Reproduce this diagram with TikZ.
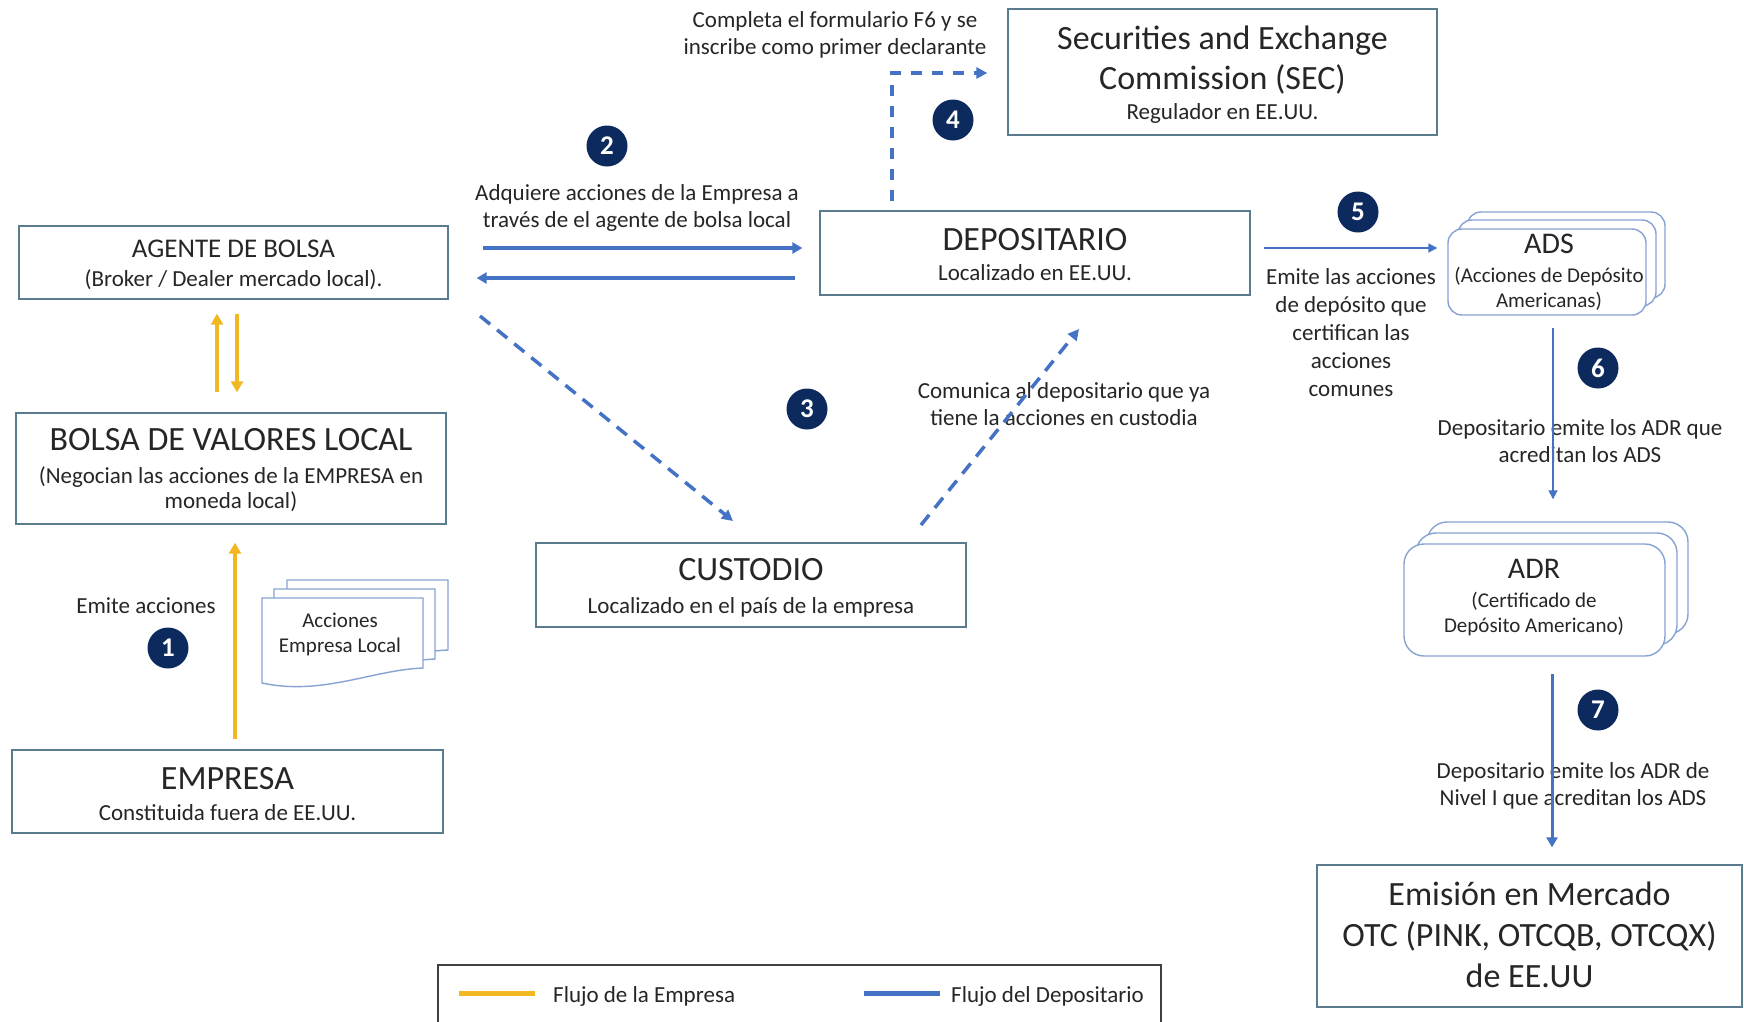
\documentclass[tikz,border=0pt]{standalone}
\usepackage{fontspec}
\setmainfont{Carlito}
\usetikzlibrary{arrows.meta,calc}
\definecolor{boxc}{HTML}{5B7B8F}
\definecolor{stackc}{HTML}{86A3D3}
\definecolor{flowb}{HTML}{4472C4}
\definecolor{flowy}{HTML}{F2B824}
\definecolor{navy}{HTML}{0D2A5E}
\definecolor{txt}{HTML}{262626}
\definecolor{legc}{HTML}{404040}
\tikzset{
  box/.style={draw=boxc, line width=1.3pt, fill=white, inner sep=0pt},
  stk/.style={draw=stackc, line width=1.4pt, fill=white, inner sep=0pt},
  ttl/.style={anchor=base, inner sep=0pt, text=txt, align=center, font=\fontsize{34}{41}\selectfont},
  ttlsmall/.style={anchor=base, inner sep=0pt, text=txt, align=center, font=\fontsize{27}{32}\selectfont},
  ttlstk/.style={anchor=base, inner sep=0pt, text=txt, align=center, font=\fontsize{30}{34}\selectfont},
  sub/.style={anchor=base, inner sep=0pt, text=txt, align=center, font=\fontsize{23}{25}\selectfont},
  substk/.style={anchor=base, inner sep=0pt, text=txt, align=center, font=\fontsize{21}{25}\selectfont},
  lbl/.style={anchor=base, inner sep=0pt, text=txt, align=center, font=\fontsize{23}{27.5}\selectfont},
  badge/.style={circle, fill=navy, text=white, inner sep=0pt, minimum size=41pt, font=\fontsize{27}{27}\selectfont\bfseries},
  yflow/.style={draw=flowy, line width=4pt, -{Triangle[length=11pt,width=12pt]}},
  bflow/.style={draw=flowb, line width=3.5pt, -{Triangle[length=10pt,width=11pt]}},
  bthin/.style={draw=flowb, line width=1.6pt, -{Triangle[length=9pt,width=9pt]}},
  bdash/.style={draw=flowb, line width=3.5pt, dash pattern=on 13pt off 9pt, -{Triangle[length=11pt,width=11pt]}},
}
\begin{document}
\begin{tikzpicture}[x=1pt,y=-1pt]
\useasboundingbox[fill=white] (0,0) rectangle (1744,1021);

% (multi-line text nodes are placed at the baseline of their LAST line)
% ---------- main boxes ----------
\node[box, minimum width=429pt, minimum height=73pt] (agente) at (233.5,262.5) {};
\node[ttlsmall] (agenteT) at (233.5,257) {AGENTE DE BOLSA};
\node[sub] (agenteS) at (233.5,286) {(Broker / Dealer mercado local).};

\node[box, minimum width=430pt, minimum height=111pt] (bolsa) at (231,468.5) {};
\node[ttl] (bolsaT) at (231,450) {BOLSA DE VALORES LOCAL};
\node[sub] (bolsaS) at (231,508) {(Negocian las acciones de la EMPRESA en\\moneda local)};

\node[box, minimum width=431pt, minimum height=83pt] (empresa) at (227.5,791.5) {};
\node[ttl] (empresaT) at (227.5,789) {EMPRESA};
\node[sub] (empresaS) at (227.5,820) {Constituida fuera de EE.UU.};

\node[box, minimum width=430pt, minimum height=84pt] (custodio) at (751,585) {};
\node[ttl] (custodioT) at (751,580) {CUSTODIO};
\node[sub] (custodioS) at (751,613) {Localizado en el país de la empresa};

\node[box, minimum width=430pt, minimum height=84pt] (depositario) at (1035,253) {};
\node[ttl] (depositarioT) at (1035,250) {DEPOSITARIO};
\node[sub] (depositarioS) at (1035,280) {Localizado en EE.UU.};

\node[box, minimum width=429pt, minimum height=126pt] (sec) at (1222.5,72) {};
\node[ttl, font=\fontsize{34}{40}\selectfont] (secT) at (1222.5,89) {Securities and Exchange\\Commission (SEC)};
\node[sub] (secS) at (1222.5,119) {Regulador en EE.UU.};

\node[box, minimum width=425pt, minimum height=142pt] (otc) at (1529.5,936) {};
\node[ttl] (otcT) at (1529.5,987) {Emisión en Mercado\\OTC (PINK, OTCQB, OTCQX)\\de EE.UU};

% ---------- document stack ----------
\foreach \dx/\dy in {25/-18, 12/-9, 0/0}{
  \draw[stk, shift={(\dx,\dy)}] (262,598) -- (423,598) -- (423,668)
     .. controls (372,670) and (322,696) .. (262,683) -- cycle;
}
\node[substk] (docT) at (340,652) {Acciones\\Empresa Local};

% ---------- ADS stack ----------
\node[stk, rounded corners=14pt, minimum width=198pt, minimum height=86pt] (ads3) at (1566,255) {};
\node[stk, rounded corners=14pt, minimum width=198pt, minimum height=86pt] (ads2) at (1557,263) {};
\node[stk, rounded corners=14pt, minimum width=198pt, minimum height=86pt] (ads) at (1547,272) {};
\node[ttlstk] (adsT) at (1549,253) {ADS};
\node[substk] (adsS) at (1549,307) {(Acciones de Depósito\\Americanas)};

% ---------- ADR stack ----------
\node[stk, rounded corners=20pt, minimum width=261pt, minimum height=112pt] (adr3) at (1557.5,578) {};
\node[stk, rounded corners=20pt, minimum width=261pt, minimum height=112pt] (adr2) at (1546.5,589) {};
\node[stk, rounded corners=20pt, minimum width=261pt, minimum height=112pt] (adr) at (1534.5,600) {};
\node[ttlstk] (adrT) at (1534,578) {ADR};
\node[substk] (adrS) at (1534,632) {(Certificado de\\Depósito Americano)};

% ---------- labels ----------
\node[lbl] (lblF6) at (835,54.5) {Completa el formulario F6 y se\\inscribe como primer declarante};
\node[lbl] (lblAdq) at (637,227.5) {Adquiere acciones de la Empresa a\\través de el agente de bolsa local};
\node[lbl] (lblCom) at (1064,425.5) {Comunica al depositario que ya\\tiene la acciones en custodia};
\node[lbl, font=\fontsize{23}{28}\selectfont] (lblEm5) at (1351,396) {Emite las acciones\\de depósito que\\certifican las\\acciones\\comunes};
\node[lbl] (lblDep6) at (1580,462.5) {Depositario emite los ADR que\\acreditan los ADS};
\node[lbl] (lblDep7) at (1573,805.5) {Depositario emite los ADR de\\Nivel I que acreditan los ADS};
\node[lbl] (lblEm1) at (146,613) {Emite acciones};

% ---------- badges ----------
\node[badge] (b1) at (168,648) {1};
\node[badge] (b2) at (607,146) {2};
\node[badge] (b3) at (807,409) {3};
\node[badge] (b4) at (953,120) {4};
\node[badge] (b5) at (1358,212) {5};
\node[badge] (b6) at (1598,368) {6};
\node[badge] (b7) at (1598,710) {7};

% ---------- connectors ----------
\coordinate (xA) at (235,0);
\coordinate (xU) at (217,0);
\coordinate (xD) at (237,0);
\coordinate (yB1) at (0,248);
\coordinate (yB2) at (0,278);
\coordinate (xE) at (892,0);
\coordinate (yE) at (0,73);
\coordinate (x6) at (1553,0);
\coordinate (x7) at (1552,0);
\coordinate (c3a) at (480,316);
\coordinate (c3b) at (733,521);
\coordinate (c3c) at (921,525);
\coordinate (c3d) at (1079,329);

\draw[yflow, shorten <=10pt, shorten >=18pt] (empresa.north -| xA) -- (bolsa.south -| xA);
\draw[yflow, shorten <=20pt, shorten >=14pt] (bolsa.north -| xU) -- (agente.south -| xU);
\draw[yflow, shorten <=14pt, shorten >=20pt] (agente.south -| xD) -- (bolsa.north -| xD);

\draw[bflow, shorten <=34pt, shorten >=17pt] (agente.east |- yB1) -- (depositario.west |- yB1);
\draw[bflow, shorten <=24pt, shorten >=28pt] (depositario.west |- yB2) -- (agente.east |- yB2);

\draw[bdash] (c3a) -- (c3b);
\draw[bdash] (c3c) -- (c3d);
\draw[bdash, dash pattern=on 11pt off 10pt, shorten <=9pt, shorten >=20pt] (depositario.north -| xE) |- (sec.west |- yE);

\draw[bthin, shorten <=13pt, shorten >=10pt] (depositario.east |- yB1) -- (ads.west |- yB1);
\draw[bthin, shorten <=12pt, shorten >=44pt] (ads.south -| x6) -- (adr.north -| x6);
\draw[bflow, line width=3pt, shorten <=17pt, shorten >=17pt] (adr.south -| x7) -- (otc.north -| x7);

% ---------- legend ----------
\draw[draw=legc, line width=1.3pt] (438,1030) |- (1161,965) -- (1161,1030);
\draw[draw=flowy, line width=5pt] (459,993) -- (535,993);
\draw[draw=flowb, line width=5pt] (864,993) -- (940,993);
\node[lbl, anchor=base west] (legY) at (553,1002) {Flujo de la Empresa};
\node[lbl, anchor=base west] (legB) at (951,1002) {Flujo del Depositario};
\end{tikzpicture}
\end{document}
